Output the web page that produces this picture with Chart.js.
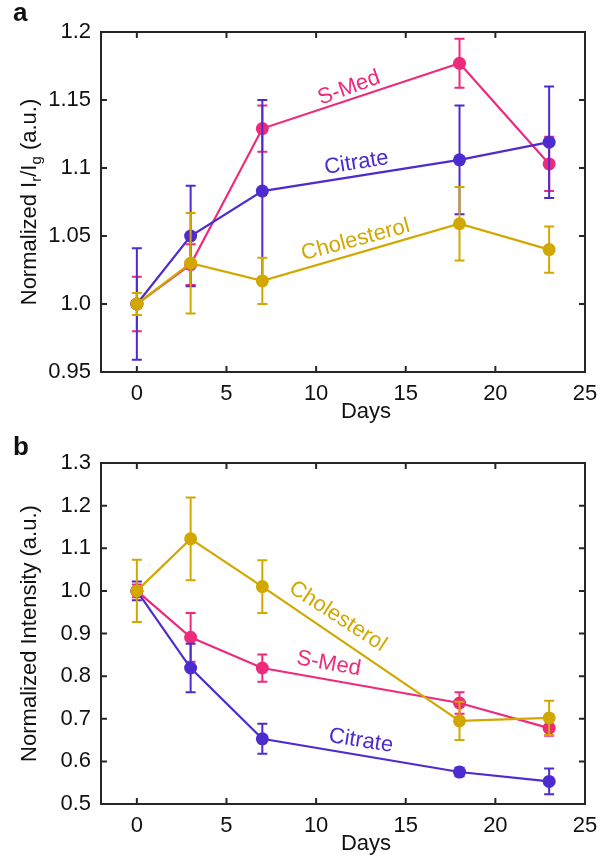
<!DOCTYPE html>
<html><head><meta charset="utf-8">
<script src="https://cdn.jsdelivr.net/npm/chart.js@4"></script>
<style>body{margin:0;background:#fff}canvas{display:block}</style>
</head><body>
<canvas id="ca" width="600" height="430"></canvas>
<canvas id="cb" width="600" height="427"></canvas>
<script>
// ---------- data ----------
const days = [0, 3, 7, 18, 23];
const xTicks = [0, 5, 10, 15, 20, 25];

// Panel a : Normalized Ir/Ig
const aSMed       = [1.000, 1.029, 1.129, 1.177, 1.103];
const aSMedErr    = [0.020, 0.015, 0.017, 0.018, 0.020];
const aCitrate    = [1.000, 1.050, 1.083, 1.106, 1.119];
const aCitrateErr = [0.041, 0.037, 0.067, 0.040, 0.041];
const aChol       = [1.000, 1.030, 1.017, 1.059, 1.040];
const aCholErr    = [0.008, 0.037, 0.017, 0.027, 0.017];
const aYTicks      = [0.95, 1.0, 1.05, 1.1, 1.15, 1.2];
const aYTickLabels = ['0.95', '1.0', '1.05', '1.1', '1.15', '1.2'];

// Panel b : Normalized Intensity
const bSMed       = [1.000, 0.891, 0.819, 0.737, 0.678];
const bSMedErr    = [0.015, 0.057, 0.032, 0.025, 0.018];
const bCitrate    = [1.000, 0.819, 0.653, 0.575, 0.553];
const bCitrateErr = [0.022, 0.057, 0.035, 0.010, 0.030];
const bChol       = [1.000, 1.122, 1.010, 0.695, 0.702];
const bCholErr    = [0.073, 0.097, 0.062, 0.045, 0.040];
const bYTicks      = [0.5, 0.6, 0.7, 0.8, 0.9, 1.0, 1.1, 1.2, 1.3];
const bYTickLabels = ['0.5', '0.6', '0.7', '0.8', '0.9', '1.0', '1.1', '1.2', '1.3'];

const seriesNames = ['S-Med', 'Citrate', 'Cholesterol'];

// ---------- styles ----------
const FONT = "'Liberation Sans', Arial, Helvetica, sans-serif";
const COLORS = ['#EE2A7B', '#4E2BCF', '#D2A800'];
const AXIS = '#262626';

// annotation placement (data coordinates + angle)
const aLabelPos = [
  { x: 11.84, y: 1.1588, angle: -20 },
  { x: 12.25, y: 1.1037, angle: -9 },
  { x: 12.2,  y: 1.047,  angle: -15 }
];
const bLabelPos = [
  { x: 10.7, y: 0.829, angle: 10 },
  { x: 12.5, y: 0.648, angle: 9 },
  { x: 11.2, y: 0.940, angle: 33 }
];

const panelPlugin = {
  id: 'panel',
  beforeDatasetDraw(chart, args) {
    const ds = chart.data.datasets[args.index];
    const xs = chart.scales.x, ys = chart.scales.y, ctx = chart.ctx;
    ctx.save();
    ctx.strokeStyle = ds.borderColor;
    ctx.lineWidth = 2;
    ds.data.forEach((p, i) => {
      const e = ds.errors[i];
      const px = xs.getPixelForValue(p.x);
      const top = ys.getPixelForValue(p.y + e);
      const bot = ys.getPixelForValue(p.y - e);
      ctx.beginPath();
      ctx.moveTo(px, top); ctx.lineTo(px, bot);
      ctx.moveTo(px - 5, top); ctx.lineTo(px + 5, top);
      ctx.moveTo(px - 5, bot); ctx.lineTo(px + 5, bot);
      ctx.stroke();
    });
    ctx.restore();
  },
  afterDatasetsDraw(chart, args, opts) {
    const xs = chart.scales.x, ys = chart.scales.y, ctx = chart.ctx;
    ctx.save();
    ctx.font = '22px ' + FONT;
    ctx.textAlign = 'center';
    ctx.textBaseline = 'middle';
    opts.labels.forEach((l, i) => {
      ctx.save();
      ctx.translate(xs.getPixelForValue(l.x), ys.getPixelForValue(l.y));
      ctx.rotate(l.angle * Math.PI / 180);
      ctx.fillStyle = COLORS[i];
      ctx.fillText(seriesNames[i], 0, 0);
      ctx.restore();
    });
    ctx.restore();
  },
  afterDraw(chart, args, opts) {
    const a = chart.chartArea, ctx = chart.ctx;
    const xs = chart.scales.x, ys = chart.scales.y;
    ctx.save();
    // frame
    ctx.strokeStyle = AXIS;
    ctx.lineWidth = 2;
    ctx.strokeRect(a.left, a.top, a.right - a.left, a.bottom - a.top);
    // inward ticks on all sides
    const tl = 6;
    ctx.beginPath();
    xs.ticks.forEach(t => {
      const px = xs.getPixelForValue(t.value);
      ctx.moveTo(px, a.bottom); ctx.lineTo(px, a.bottom - tl);
      ctx.moveTo(px, a.top); ctx.lineTo(px, a.top + tl);
    });
    ys.ticks.forEach(t => {
      const py = ys.getPixelForValue(t.value);
      ctx.moveTo(a.left, py); ctx.lineTo(a.left + tl, py);
      ctx.moveTo(a.right, py); ctx.lineTo(a.right - tl, py);
    });
    ctx.stroke();
    // x title
    ctx.fillStyle = '#111';
    ctx.font = '22px ' + FONT;
    ctx.textAlign = 'center';
    ctx.textBaseline = 'alphabetic';
    ctx.fillText('Days', a.left + 265, a.bottom + 46);
    // y title with subscripts
    const parts = opts.yTitle;
    const big = '22px ' + FONT, small = '15px ' + FONT;
    let total = 0;
    parts.forEach(p => { ctx.font = p[1] ? small : big; total += ctx.measureText(p[0]).width; });
    ctx.translate(30, (a.top + a.bottom) / 2);
    ctx.rotate(-Math.PI / 2);
    ctx.textAlign = 'left';
    ctx.textBaseline = 'middle';
    let cx = -total / 2;
    parts.forEach(p => {
      ctx.font = p[1] ? small : big;
      ctx.fillText(p[0], cx, p[1] ? 7 : 0);
      cx += ctx.measureText(p[0]).width;
    });
    ctx.restore();
    // panel letter
    ctx.save();
    ctx.fillStyle = '#111';
    ctx.font = 'bold 26px ' + FONT;
    ctx.textAlign = 'left';
    ctx.textBaseline = 'alphabetic';
    ctx.fillText(opts.letter, 13, opts.letterY);
    ctx.restore();
  }
};

function makeDatasets(vals, errs) {
  return vals.map((v, k) => ({
    label: seriesNames[k],
    data: days.map((d, i) => ({ x: d, y: v[i] })),
    errors: errs[k],
    borderColor: COLORS[k],
    backgroundColor: COLORS[k],
    borderWidth: 2.2,
    pointRadius: 6.5,
    pointBorderWidth: 0,
    pointBackgroundColor: COLORS[k],
    tension: 0,
    order: 3 - k
  }));
}

function makeChart(id, vals, errs, yMin, yMax, yTicks, yLabels, opts, padTop, xHeight) {
  return new Chart(document.getElementById(id), {
    type: 'line',
    data: { datasets: makeDatasets(vals, errs) },
    options: {
      responsive: false,
      animation: false,
      devicePixelRatio: 1,
      layout: { padding: { top: padTop, right: 15, left: 0, bottom: 0 } },
      plugins: { legend: { display: false }, tooltip: { enabled: false }, panel: opts },
      scales: {
        x: {
          type: 'linear', min: -2, max: 25,
          afterBuildTicks: s => { s.ticks = xTicks.map(v => ({ value: v })); },
          afterFit: s => { s.height = xHeight; s.paddingLeft = 0; s.paddingRight = 0; },
          grid: { display: false, drawTicks: false },
          border: { display: false },
          ticks: { color: '#111', font: { family: FONT, size: 22 }, padding: 9, maxRotation: 0,
                   callback: v => String(v) }
        },
        y: {
          type: 'linear', min: yMin, max: yMax,
          afterBuildTicks: s => { s.ticks = yTicks.map(v => ({ value: v })); },
          afterFit: s => { s.width = 101; s.paddingTop = 0; s.paddingBottom = 0; },
          grid: { display: false, drawTicks: false },
          border: { display: false },
          ticks: { color: '#111', font: { family: FONT, size: 22 }, padding: 10,
                   callback: (v, i) => yLabels[i] }
        }
      }
    },
    plugins: [panelPlugin]
  });
}

makeChart('ca', [aSMed, aCitrate, aChol], [aSMedErr, aCitrateErr, aCholErr],
  0.95, 1.2, aYTicks, aYTickLabels,
  { letter: 'a', letterY: 21, labels: aLabelPos,
    yTitle: [['Normalized I', 0], ['r', 1], ['/I', 0], ['g', 1], [' (a.u.)', 0]] },
  32, 58);

makeChart('cb', [bSMed, bCitrate, bChol], [bSMedErr, bCitrateErr, bCholErr],
  0.5, 1.3, bYTicks, bYTickLabels,
  { letter: 'b', letterY: 25, labels: bLabelPos,
    yTitle: [['Normalized Intensity (a.u.)', 0]] },
  33, 53);
</script>
</body></html>
